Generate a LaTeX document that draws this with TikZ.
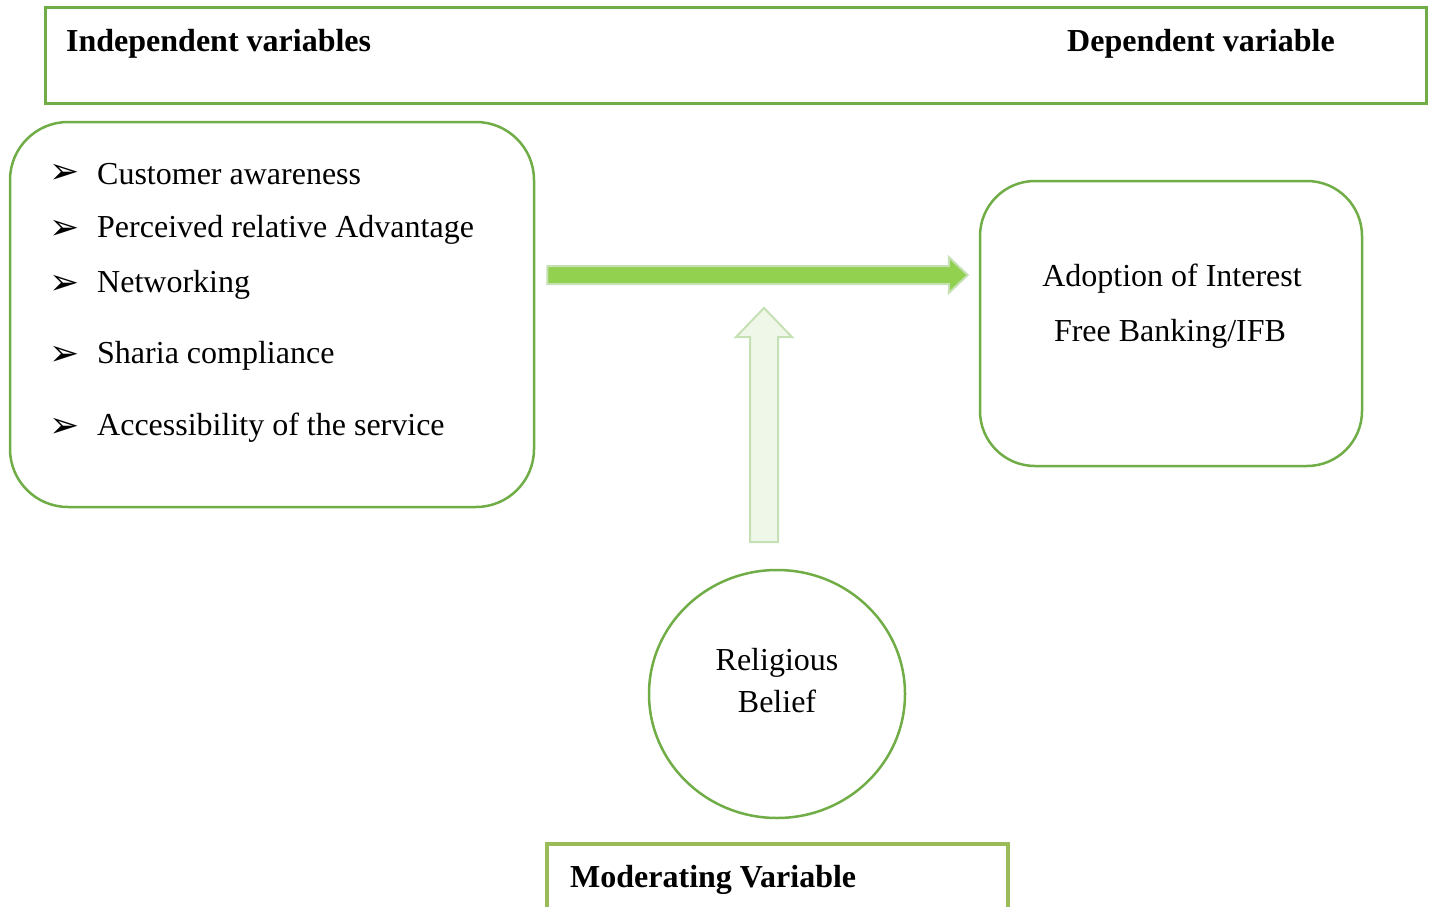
\documentclass[tikz,border=0pt]{standalone}
\usepackage{fontspec}
\setmainfont{Liberation Serif}
\newfontfamily\dingfont{DejaVu Sans}
\usetikzlibrary{calc,shapes.geometric}

\definecolor{boxgreen}{HTML}{70AD47}
\definecolor{modgreen}{HTML}{9BBB59}
\definecolor{flowfill}{HTML}{92D050}
\definecolor{flowedge}{HTML}{C5E0B4}
\definecolor{paleflow}{HTML}{EFF7E8}

\tikzset{
    varbox/.style={draw=boxgreen, line width=2.5pt, rounded corners=58pt},
    headbox/.style={draw=boxgreen, line width=3pt},
    headtext/.style={font=\fontsize{32}{38}\selectfont\bfseries, anchor=west, inner sep=0pt},
    itemtext/.style={font=\fontsize{32}{38}\selectfont, anchor=west, inner sep=0pt},
    tick/.style={font=\dingfont\fontsize{36}{40}\selectfont, anchor=west, inner sep=0pt},
    flowarrow/.style={fill=flowfill, draw=flowedge, line width=2pt, line join=miter},
    modarrow/.style={fill=paleflow, draw=flowedge, line width=2pt, line join=miter}
}

\begin{document}
\begin{tikzpicture}[x=1pt, y=-1pt]

    \useasboundingbox (0,0) rectangle (1430,907);

    % header strip
    \draw[headbox] (45,8) rectangle (1426,103);
    \node[headtext] (ivhead) at (66,44) {Independent variables};
    \node[headtext] (dvhead) at (1067,44) {Dependent variable};

    % independent variables
    \node[varbox, minimum width=524, minimum height=385] (ivbox) at (272,314.5) {};
    \foreach \y/\txt [count=\i] in {174/Customer awareness,
                                   230/Perceived relative Advantage,
                                   285/Networking,
                                   356/Sharia compliance,
                                   428/Accessibility of the service} {
        \node[tick] (tick\i) at (49,\y) {➢};
        \node[itemtext] (item\i) at (97,\y) {\txt};
    }

    % dependent variable
    \node[varbox, rounded corners=55pt, minimum width=382, minimum height=285] (dvbox) at (1171,323.5) {};
    \node[itemtext, anchor=center] (dvtop) at (1172,279) {Adoption of Interest};
    \node[itemtext, anchor=center] (dvbot) at (1170,334) {Free Banking/IFB};

    % moderator
    \node[ellipse, draw=boxgreen, line width=2.5pt, minimum width=256, minimum height=248] (rbel) at (777,694) {};
    \node[font=\fontsize{32}{42}\selectfont, align=center, inner sep=0pt] (rbtext) at (777,681) {Religious\\Belief};

    \node[draw=modgreen, line width=4pt, minimum width=461, minimum height=70] (modbox) at (777.5,879) {};
    \node[headtext] (modtext) at (570,880) {Moderating Variable};

    % arrows
    \coordinate (hs) at ([xshift=12]ivbox.east |- 0,275);
    \coordinate (he) at ([xshift=-11]dvbox.west |- 0,275);
    \draw[flowarrow] let \p1=(hs), \p2=(he) in
        (\x1,\y1+9) -- (\x2-19,\y1+9) -- (\x2-19,\y1+18) -- (\x2,\y1)
        -- (\x2-19,\y1-18) -- (\x2-19,\y1-9) -- (\x1,\y1-9) -- cycle;

    \coordinate (vs) at (764,542);
    \coordinate (ve) at (764,308);
    \draw[modarrow] let \p1=(vs), \p2=(ve) in
        (\x1-14,\y1) -- (\x1-14,\y2-29) -- (\x1-28,\y2-29) -- (\x1,\y2)
        -- (\x1+28,\y2-29) -- (\x1+14,\y2-29) -- (\x1+14,\y1) -- cycle;

\end{tikzpicture}
\end{document}
